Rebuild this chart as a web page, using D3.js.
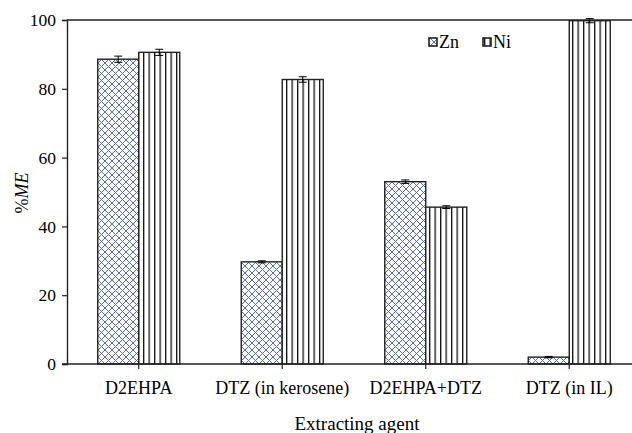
<!DOCTYPE html>
<html><head><meta charset="utf-8">
<script src="https://cdn.jsdelivr.net/npm/d3@7"></script>
<style>body{margin:0;background:#fff}svg{display:block}</style>
</head><body><svg id="c" width="632" height="433"></svg>
<script>
const categories = ["D2EHPA","DTZ (in kerosene)","D2EHPA+DTZ","DTZ (in IL)"];
const series = ["Zn","Ni"];
const znValues = [88.6, 29.7, 53.0, 2.0];
const niValues = [90.6, 82.7, 45.6, 99.8];
const znErrors = [0.9, 0.3, 0.5, 0.2];
const niErrors = [0.9, 0.8, 0.4, 0.6];
const yTicks = [0,20,40,60,80,100];

const svg = d3.select("#c");
const FF = "'Liberation Serif'";
const L=67, R=641, T=20, B=364;
const y = d3.scaleLinear().domain([0,100]).range([B,T]);
const x0 = d3.scaleBand().domain(categories).range([L,R]).padding(0);
const x1 = d3.scaleBand().domain(series).range([-41,41]).padding(0);

const defs = svg.append("defs");
const hatch = defs.append("pattern").attr("id","hatch").attr("patternUnits","userSpaceOnUse").attr("width",7).attr("height",7);
hatch.append("rect").attr("width",7).attr("height",7).attr("fill","#fbfcfe");
hatch.append("path").attr("d","M0,0L7,7M7,0L0,7M-1,6L1,8M6,-1L8,1").attr("stroke","#5d6d9e").attr("stroke-width",1);
const stripe = defs.append("pattern").attr("id","stripe").attr("patternUnits","userSpaceOnUse").attr("width",5.5).attr("height",10);
stripe.append("rect").attr("width",5.5).attr("height",10).attr("fill","#fff");
stripe.append("rect").attr("x",0).attr("width",1.3).attr("height",10).attr("fill","#111");

const data = [];
categories.forEach((c,i)=>{
  data.push({c, s:"Zn", v:znValues[i], e:znErrors[i]});
  data.push({c, s:"Ni", v:niValues[i], e:niErrors[i]});
});
const cx = d => x0(d.c)+x0.bandwidth()/2 + x1(d.s);

svg.selectAll("rect.bar").data(data).enter().append("rect").attr("class","bar")
  .attr("x", cx).attr("width", x1.bandwidth())
  .attr("y", d=>y(d.v)).attr("height", d=>B-y(d.v))
  .attr("fill", d=>d.s==="Zn"?"url(#hatch)":"url(#stripe)")
  .attr("stroke","#222").attr("stroke-width",1.4);

// error bars
const eb = svg.append("g").attr("stroke","#000").attr("stroke-width",1);
data.forEach(d=>{
  const m = cx(d)+x1.bandwidth()/2;
  eb.append("line").attr("x1",m).attr("x2",m).attr("y1",y(d.v+d.e)).attr("y2",y(d.v-d.e));
  eb.append("line").attr("x1",m-4).attr("x2",m+4).attr("y1",y(d.v+d.e)).attr("y2",y(d.v+d.e));
  eb.append("line").attr("x1",m-4).attr("x2",m+4).attr("y1",y(d.v-d.e)).attr("y2",y(d.v-d.e));
});

// axes
const yAxis = svg.append("g").attr("transform",`translate(${L},0)`)
  .call(d3.axisLeft(y).tickValues(yTicks).tickSize(5).tickPadding(6));
yAxis.select(".domain").attr("stroke","#222").attr("stroke-width",1.4);
yAxis.selectAll(".tick line").attr("stroke","#222").attr("stroke-width",1.2);
yAxis.selectAll("text").style("font-family",FF).style("font-size","17.5px");

const xAxis = svg.append("g").attr("transform",`translate(0,${B})`)
  .call(d3.axisBottom(x0).tickSize(5).tickSizeOuter(0).tickPadding(12));
xAxis.select(".domain").remove();
xAxis.selectAll(".tick line").attr("stroke","#222").attr("stroke-width",1.2);
xAxis.selectAll("text").style("font-family",FF).style("font-size","18px");
svg.append("line").attr("x1",62).attr("x2",632).attr("y1",B).attr("y2",B).attr("stroke","#222").attr("stroke-width",1.4);
svg.append("line").attr("x1",L).attr("x2",632).attr("y1",T).attr("y2",T).attr("stroke","#222").attr("stroke-width",1.4);

// legend
const lg = svg.append("g");
[{s:"Zn",x:429,f:"url(#hatch)"},{s:"Ni",x:483,f:"url(#stripe)"}].forEach(o=>{
  lg.append("rect").attr("x",o.x).attr("y",38).attr("width",8).attr("height",8).attr("fill",o.f).attr("stroke","#222").attr("stroke-width",1.6);
  lg.append("text").attr("x",o.x+10).attr("y",48).style("font-family",FF).style("font-size","18px").text(o.s);
});

// labels
const yl = svg.append("text").attr("transform","translate(28,193) rotate(-90)").attr("text-anchor","middle")
  .style("font-family",FF).style("font-size","18px");
yl.append("tspan").text("%");
yl.append("tspan").style("font-style","italic").text("ME");
svg.append("text").attr("x",357).attr("y",430).attr("text-anchor","middle")
  .style("font-family",FF).style("font-size","19px").text("Extracting agent");
</script></body></html>
